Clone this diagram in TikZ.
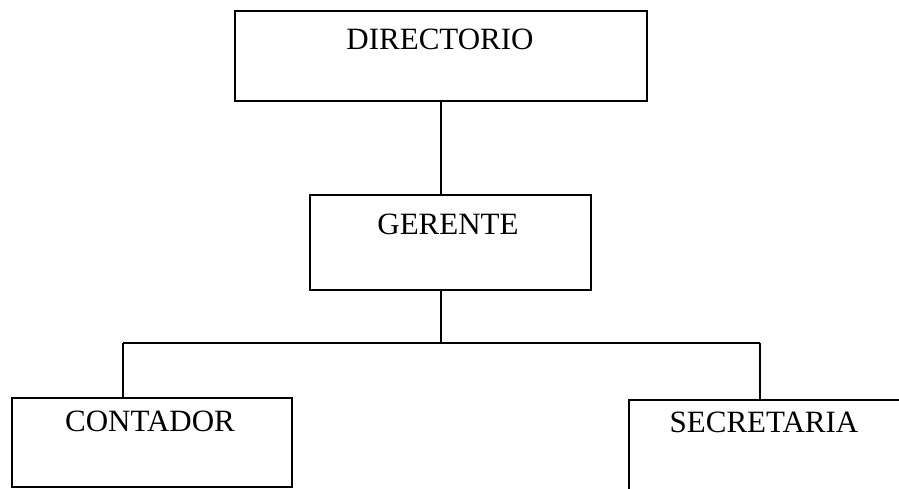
\documentclass[tikz,border=0pt]{standalone}
\usepackage{fontspec}
\setmainfont{Liberation Serif}
\begin{document}
\begin{tikzpicture}[x=1pt,y=-1pt,
  box/.style={draw,line width=1.6pt,inner sep=0pt,anchor=north west},
  lbl/.style={font=\fontsize{31}{31}\selectfont,inner sep=0pt},
  conn/.style={line width=1.6pt}]
\clip (0,0) rectangle (899,488);
\fill[white] (0,0) rectangle (899,488);
\node[box,minimum width=412pt,minimum height=90pt] (dir) at (234,10) {};
\node[box,minimum width=281pt,minimum height=95pt] (ger) at (309,194) {};
\node[box,minimum width=280pt,minimum height=89pt] (con) at (11,397) {};
\node[box,minimum width=300pt,minimum height=120pt] (sec) at (628,399) {};
\node[lbl] (tdir) at (440,39) {DIRECTORIO};
\node[lbl] (tger) at (448,224) {GERENTE};
\node[lbl] (tcon) at (150,421) {CONTADOR};
\node[lbl] (tsec) at (764,422) {SECRETARIA};
\coordinate (bus) at (441,343);
\coordinate (bl) at (123,343);
\coordinate (br) at (760,343);
\draw[conn] (dir.south) -- (dir.south |- ger.north);
\draw[conn] (ger.south -| bus) -- (bus);
\draw[conn] (bl) -- (br);
\draw[conn] (bl) -- (bl |- con.north);
\draw[conn] (br) -- (br |- sec.north);
\end{tikzpicture}
\end{document}
